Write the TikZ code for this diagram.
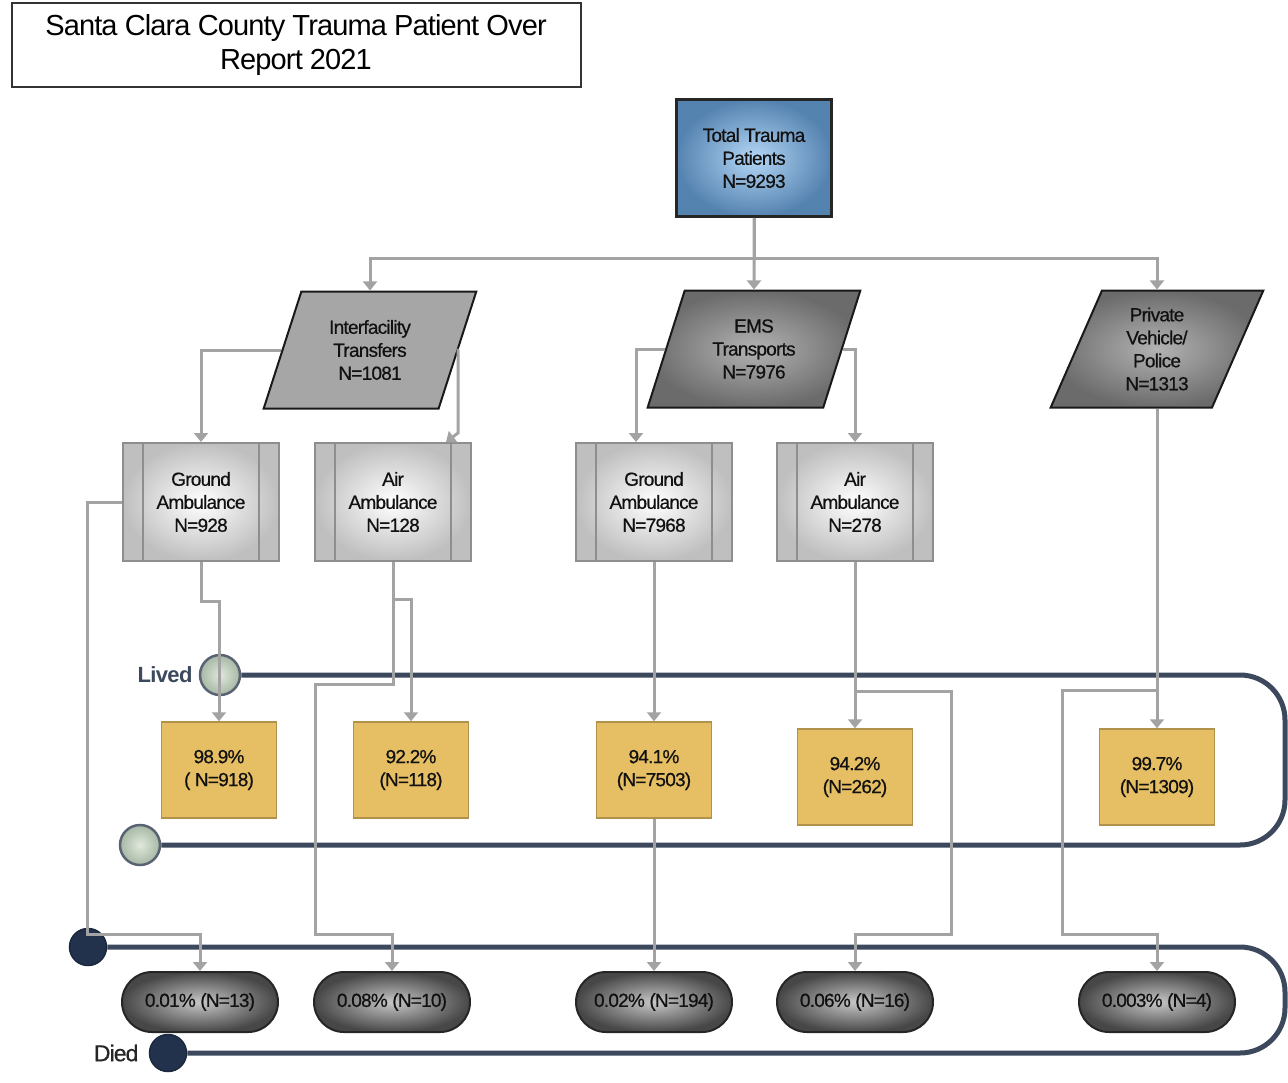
\documentclass[tikz,border=0pt]{standalone}
\usepackage{fontspec}
\setmainfont{Liberation Sans}[LetterSpace=-3]
\newfontfamily\boxfamily{Liberation Sans}[LetterSpace=-4, FakeBold=0.6]
\usetikzlibrary{shapes.geometric,arrows.meta}

\definecolor{scBlueIn}{HTML}{B3D6F5}
\definecolor{scBlueOut}{HTML}{5583B0}
\definecolor{scGold}{HTML}{E6BE63}
\definecolor{scGoldEdge}{HTML}{B0924A}
\definecolor{scArrow}{HTML}{A3A3A3}
\definecolor{scLane}{HTML}{3C485C}
\definecolor{scLivedIn}{HTML}{E0E8DC}
\definecolor{scLivedOut}{HTML}{A6B8A4}
\definecolor{scDied}{HTML}{22324C}
\definecolor{scAmbEdge}{HTML}{8E8E8E}
\definecolor{scInk}{HTML}{111111}

\tikzset{
  boxfont/.style={font=\boxfamily\fontsize{19}{23}\selectfont, align=center, text=scInk},
  startbox/.style={boxfont, rectangle, minimum width=155pt, minimum height=117pt,
    inner color=scBlueIn, outer color=scBlueOut, draw=black!85, line width=2.5pt},
  iobox/.style={boxfont, trapezium, trapezium left angle=70, trapezium right angle=110,
    trapezium stretches=true, minimum width=213pt, minimum height=117pt,
    draw=black!90, line width=2pt},
  ambbox/.style={boxfont, rectangle, minimum width=156pt, minimum height=118pt,
    inner color=white, outer color=black!25, draw=scAmbEdge, line width=2pt,
    path picture={
      \draw[scAmbEdge, line width=2pt]
        ([xshift=20pt]path picture bounding box.north west) -- ([xshift=20pt]path picture bounding box.south west)
        ([xshift=-20pt]path picture bounding box.north east) -- ([xshift=-20pt]path picture bounding box.south east);
    }},
  livedbox/.style={boxfont, rectangle, minimum width=115pt, minimum height=96pt,
    fill=scGold, draw=scGoldEdge, line width=1.5pt},
  diedbox/.style={boxfont, rectangle, rounded corners=30pt, minimum width=156pt, minimum height=60pt,
    inner color=black!22, outer color=black!72, draw=black!85, line width=2pt},
  livedpt/.style={circle, minimum size=40pt, inner sep=0pt,
    inner color=scLivedIn, outer color=scLivedOut, draw=scLane!85, line width=2.5pt},
  diedpt/.style={circle, minimum size=37pt, inner sep=0pt, fill=scDied, draw=scDied!80!black, line width=1.5pt},
  flow/.style={draw=scArrow, line width=3pt, ->},
  lane/.style={draw=scLane, line width=5pt, rounded corners=45pt}
}

\begin{document}
\begin{tikzpicture}[x=1pt,y=-1pt,>={Triangle[width=14pt,length=9pt]}]
  \useasboundingbox (0,0) rectangle (1288,1082);

  % Title
  \node[draw=black!80, line width=2pt, minimum width=569pt, minimum height=84pt,
    align=center, font=\fontsize{29}{34}\selectfont] (title) at (296,45)
    {Santa Clara County Trauma Patient Over\\Report 2021};

  % Top level
  \node[startbox] (total) at (754,158) {Total Trauma\\Patients\\N=9293};

  % Arrival mode
  \node[iobox, fill=black!35] (ift) at (370,350) {Interfacility\\Transfers\\N=1081};
  \node[iobox, inner color=black!30, outer color=black!58] (ems) at (754,349) {EMS\\Transports\\N=7976};
  \node[iobox, inner color=black!30, outer color=black!58] (pvp) at (1157,349) {Private\\Vehicle/\\Police\\N=1313};

  % Transport type
  \node[ambbox] (gnd1) at (201,502) {Ground\\Ambulance\\N=928};
  \node[ambbox] (air1) at (393,502) {Air\\Ambulance\\N=128};
  \node[ambbox] (gnd2) at (654,502) {Ground\\Ambulance\\N=7968};
  \node[ambbox] (air2) at (855,502) {Air\\Ambulance\\N=278};

  % Lived
  \node[livedbox] (live1) at (219,770) {98.9\%\\( N=918)};
  \node[livedbox] (live2) at (411,770) {92.2\%\\(N=118)};
  \node[livedbox] (live3) at (654,770) {94.1\%\\(N=7503)};
  \node[livedbox] (live4) at (855,777) {94.2\%\\(N=262)};
  \node[livedbox] (live5) at (1157,777) {99.7\%\\(N=1309)};

  % Died
  \node[diedbox] (die1) at (200,1002) {0.01\% (N=13)};
  \node[diedbox] (die2) at (392,1002) {0.08\% (N=10)};
  \node[diedbox] (die3) at (654,1002) {0.02\% (N=194)};
  \node[diedbox] (die4) at (855,1002) {0.06\% (N=16)};
  \node[diedbox] (die5) at (1157,1002) {0.003\% (N=4)};

  % Swim lanes
  \node[livedpt] (livedA) at (220,675) {};
  \node[livedpt] (livedB) at (140,845) {};
  \node[diedpt] (diedA) at (88,947) {};
  \node[diedpt] (diedB) at (168,1053) {};
  \node[anchor=east, font=\bfseries\fontsize{22}{26}\selectfont, text=scLane] (livedlbl) at (196,675) {Lived};
  \node[anchor=east, font=\boxfamily\fontsize{23}{26}\selectfont, text=black!85] (diedlbl) at (142,1053) {Died};

  \draw[lane] (livedA.east) -- (1285,675) -- (1285,845) -- (livedB.east);
  \draw[lane] (diedA.east) -- (1285,947) -- (1285,1053) -- (diedB.east);

  % Connectors
  \draw[flow] (total.south) -- ++(0,41) -| (ift.north);
  \draw[flow] (total.south) -- (ems.north);
  \draw[flow] (total.south) -- ++(0,41) -| (pvp.north);

  \draw[flow] (ift.west) -| (gnd1.north);
  \draw[flow] (ift.east) -| (458,433) -- ([xshift=53pt]air1.north);
  \draw[flow] (ems.west) -| ([xshift=-18pt]gnd2.north);
  \draw[flow] (ems.east) -| (air2.north);
  \draw[flow] (pvp.south) -- (live5.north);

  \draw[flow] (gnd1.south) -- ++(0,39) -| (live1.north);
  \draw[flow] (gnd1.west) -| (87,934) -| (die1.north);
  \draw[flow] (air1.south) -- ++(0,37) -| (live2.north);
  \draw[flow] (air1.south) -- ++(0,122) -| (315,934) -| (die2.north);
  \draw[flow] (gnd2.south) -- (live3.north);
  \draw[flow] (live3.south) -- (die3.north);
  \draw[flow] (air2.south) -- (live4.north);
  \draw[flow] (air2.south) -- ++(0,129) -| (951,934) -| (die4.north);
  \draw[flow] (pvp.south) -- ++(0,282) -| (1062,934) -| (die5.north);

\end{tikzpicture}
\end{document}
